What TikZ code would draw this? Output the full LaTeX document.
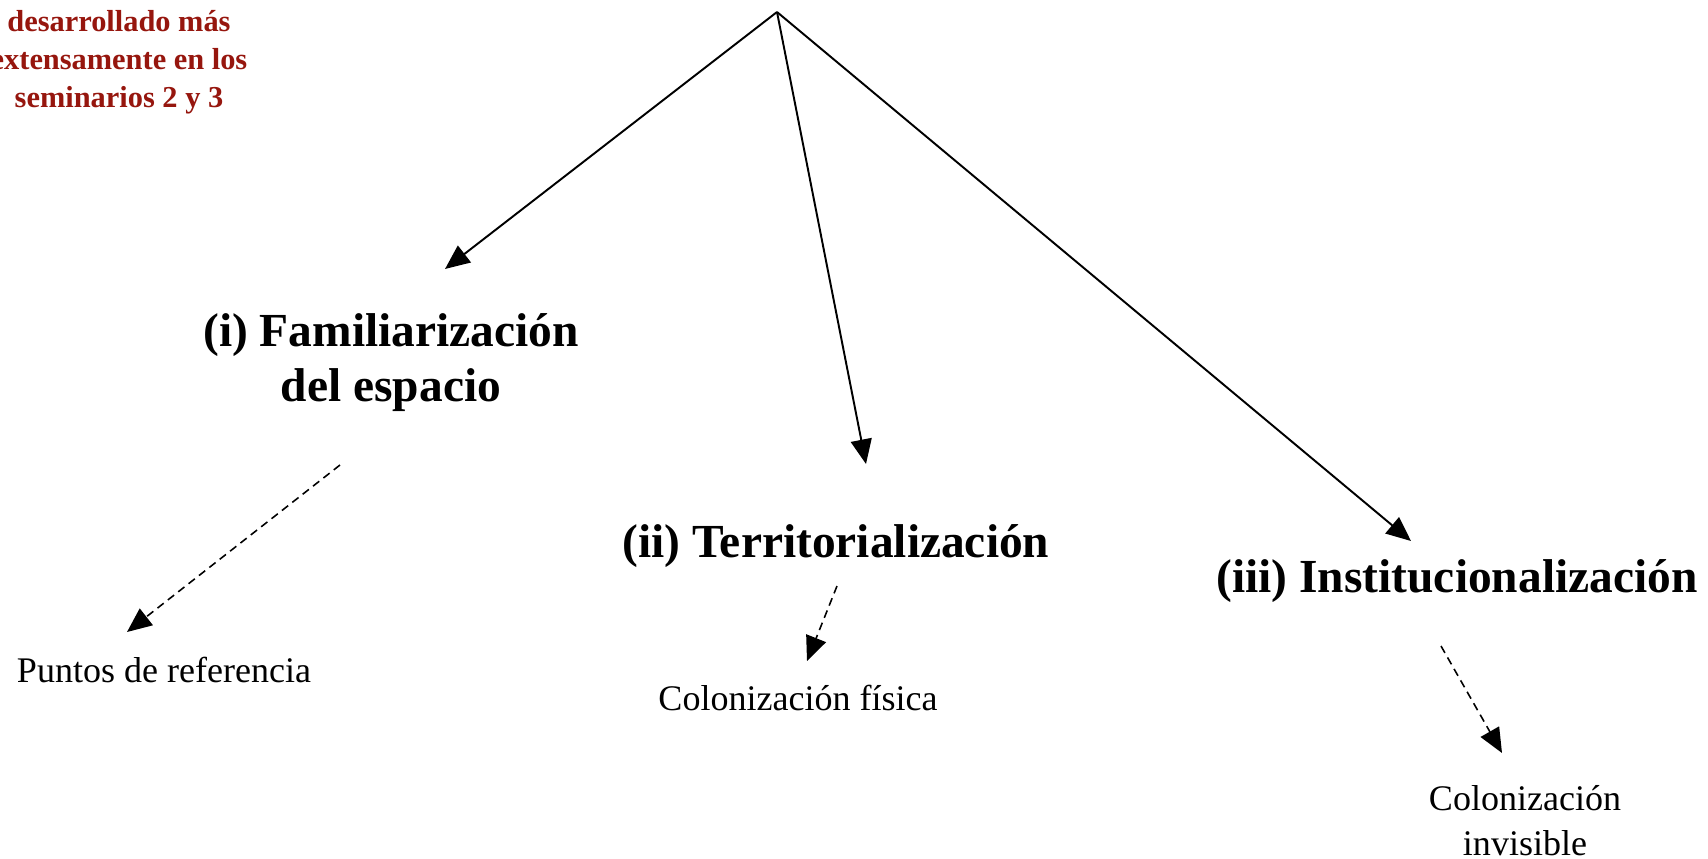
\documentclass[tikz,border=0pt]{standalone}
\usepackage{fontspec}
\setmainfont{Liberation Serif}
\usetikzlibrary{arrows.meta}

\definecolor{notered}{RGB}{150,22,14}

\tikzset{
  phase/.style={font=\fontsize{27}{31}\selectfont\bfseries, align=center, inner sep=0pt},
  result/.style={font=\fontsize{20.5}{25.5}\selectfont, align=center, inner sep=0pt},
  note/.style={font=\fontsize{17.3}{21.5}\selectfont\bfseries, text=notered, align=center, inner sep=0pt},
  mainarrow/.style={-{Triangle[length=14pt,width=12pt]}, line width=1.1pt},
  subarrow/.style={-{Triangle[length=14pt,width=12pt]}, line width=0.9pt, dash pattern=on 4.5pt off 3pt}
}

\begin{document}
\begin{tikzpicture}[x=0.02cm, y=-0.02cm]
            \useasboundingbox (0, 0) rectangle (1708, 859);
            % base = last line for the stacked texts
            \node[note, anchor=base] (note) at (119, 107) {desarrollado más\\extensamente en los\\seminarios 2 y 3};

            \coordinate (top) at (777, 12);
            \node[phase, anchor=base] (fam) at (391, 401) {(i) Familiarización\\del espacio};
            \node[phase, anchor=base] (terr) at (836, 557) {(ii) Territorialización};
            \node[phase, anchor=base] (inst) at (1457, 592) {(iii) Institucionalización};

            \coordinate (fam-in) at (445, 269);
            \coordinate (terr-in) at (866, 464);
            \coordinate (inst-in) at (1411, 541);
            \draw[mainarrow] (top) -- (fam-in);
            \draw[mainarrow] (top) -- (terr-in);
            \draw[mainarrow] (top) -- (inst-in);

            \node[result, anchor=base] (puntos) at (164, 682) {Puntos de referencia};
            \node[result, anchor=base] (fisica) at (798, 710) {Colonización física};
            \node[result, anchor=base] (invis) at (1525, 855) {Colonización\\invisible};

            \coordinate (fam-out) at (340, 465);
            \coordinate (puntos-in) at (127, 632);
            \coordinate (terr-out) at (837, 586);
            \coordinate (fisica-in) at (807, 661);
            \coordinate (inst-out) at (1441, 646);
            \coordinate (invis-in) at (1502, 753);
            \draw[subarrow] (fam-out) -- (puntos-in);
            \draw[subarrow] (terr-out) -- (fisica-in);
            \draw[subarrow] (inst-out) -- (invis-in);
        \end{tikzpicture}
\end{document}
